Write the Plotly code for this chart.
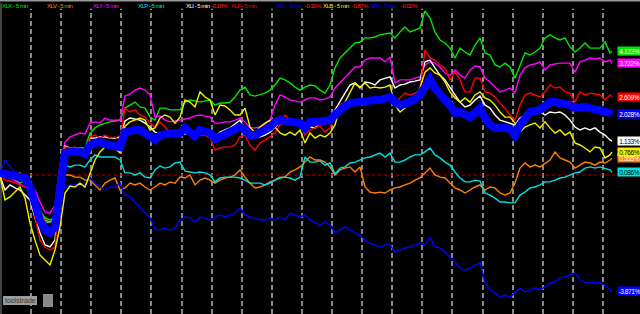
import plotly.graph_objects as go

# x positions (bar index, 5-min bars scaled)
x = list(range(0, 611, 5)) + [612]

tickers = ["XLK", "XLV", "XLY", "XLP", "XLI", "XLF", "XLU", "XLB", "SPY"]
colors = {
    "XLK": "#00e600", "XLV": "#ff8000", "XLY": "#ff00ff", "XLP": "#00e0e0",
    "XLI": "#ffffff", "XLF": "#ff0000", "XLU": "#0000ff", "XLB": "#f0f000",
    "SPY": "#0000ff",
}
end_labels = {
    "XLK": "4.123%", "XLY": "3.722%", "XLF": "2.609%", "SPY": "2.028%",
    "XLI": "1.133%", "XLB": "0.766%", "XLV": "0.555%", "XLP": "0.086%",
    "XLU": "-3.871%",
}
day_breaks = [31, 61, 91, 121, 151, 182, 212, 242, 272, 302, 332, 362, 392,
              422, 452, 483, 513, 543, 573, 603]

XLK = [0.00, -0.03, -0.07, -0.17, -0.27, -0.17, -0.60, -0.93, -1.17, -1.43,
       -1.50, -1.40, -0.33, 0.77, 0.90, 0.90, 0.90, 0.90, 1.40, 1.57,
       1.67, 1.73, 1.77, 1.80, 1.83, 2.23, 2.33, 2.43, 2.27, 2.23,
       1.93, 1.83, 2.23, 2.23, 2.17, 2.17, 2.17, 2.43, 2.50, 2.47,
       2.43, 2.47, 2.50, 2.33, 2.40, 2.40, 2.43, 2.60, 2.83, 2.93,
       2.67, 2.63, 2.67, 2.73, 2.83, 3.00, 3.23, 3.17, 3.07, 2.93,
       2.83, 2.93, 3.00, 2.97, 2.83, 2.73, 3.00, 3.57, 3.90, 4.07,
       4.23, 4.40, 4.43, 4.57, 4.57, 4.60, 4.67, 4.70, 4.73, 4.57,
       4.77, 4.93, 4.77, 4.83, 4.90, 5.47, 5.23, 4.77, 4.50, 4.40,
       4.23, 3.90, 4.23, 4.10, 4.00, 4.33, 4.57, 4.07, 4.00, 3.67,
       3.60, 3.73, 3.60, 3.23, 3.67, 4.07, 4.00, 4.10, 4.23, 4.57,
       4.67, 4.57, 4.50, 4.57, 4.27, 4.10, 4.23, 4.40, 4.23, 4.23,
       4.23, 4.43, 4.07, 4.12]

XLV = [0.07, 0.07, 0.10, 0.00, 0.07, -0.17, -0.57, -0.83, -1.23, -1.50,
       -1.57, -1.43, -0.67, 0.00, 0.00, -0.07, -0.07, -0.17, -0.17, -0.33,
       -0.50, -0.27, -0.17, -0.10, -0.50, -0.43, -0.27, -0.33, -0.27, -0.40,
       -0.50, -0.40, -0.27, -0.33, -0.23, -0.27, -0.07, -0.10, 0.00, -0.33,
       -0.17, -0.10, -0.17, -0.27, -0.17, -0.10, -0.07, 0.00, 0.17, -0.07,
       -0.27, -0.43, -0.40, -0.33, -0.23, -0.17, -0.07, -0.07, 0.10, 0.17,
       0.27, 0.43, 0.60, 0.50, 0.50, 0.43, 0.27, 0.00, 0.17, 0.23,
       0.27, 0.10, 0.27, -0.40, -0.57, -0.60, -0.57, -0.60, -0.50, -0.43,
       -0.40, -0.33, -0.27, -0.17, -0.10, 0.07, 0.23, 0.00, -0.07, -0.10,
       -0.27, -0.43, -0.50, -0.60, -0.50, -0.40, -0.33, -0.50, -0.40, -0.43,
       -0.60, -0.67, -0.60, -0.27, 0.23, 0.40, 0.27, 0.33, 0.27, 0.40,
       0.50, 0.77, 0.57, 0.50, 0.43, 0.23, 0.33, 0.43, 0.40, 0.33,
       0.43, 0.40, 0.50, 0.56]

XLY = [0.00, -0.07, -0.10, -0.20, -0.30, -0.40, -0.43, -0.50, -0.90, -1.23,
       -1.27, -1.00, 0.33, 1.10, 1.27, 1.33, 1.40, 1.37, 1.73, 1.77,
       1.73, 1.90, 1.83, 1.83, 1.83, 2.63, 2.70, 2.83, 2.90, 2.83,
       2.67, 1.93, 1.97, 1.83, 1.77, 1.80, 1.83, 1.87, 1.90, 1.97,
       2.00, 1.97, 1.93, 1.73, 1.73, 1.77, 1.77, 1.83, 1.90, 1.77,
       1.57, 1.57, 1.60, 1.70, 1.83, 2.33, 2.67, 2.60, 2.50, 2.47,
       2.43, 2.50, 2.57, 2.57, 2.50, 2.53, 2.60, 2.90, 3.07, 3.27,
       3.43, 3.60, 3.60, 3.83, 3.90, 3.90, 3.90, 3.77, 3.93, 3.07,
       3.17, 3.17, 3.17, 3.23, 3.27, 3.67, 3.77, 3.73, 3.60, 3.40,
       3.33, 3.50, 3.33, 3.23, 3.50, 3.63, 3.60, 3.23, 3.10, 2.93,
       2.77, 2.83, 2.90, 2.73, 3.33, 3.57, 3.67, 3.70, 3.77, 3.50,
       3.67, 3.70, 3.73, 3.73, 3.73, 3.43, 3.77, 3.83, 3.90, 3.87,
       3.90, 3.77, 3.83, 3.72]

XLP = [0.00, 0.03, 0.07, 0.00, -0.07, -0.17, -0.50, -1.00, -1.43, -1.57,
       -1.57, -1.43, -0.50, 0.33, 0.27, 0.33, 0.33, 0.27, 0.50, 0.67,
       0.60, 0.60, 0.60, 0.60, 0.50, 0.07, 0.07, 0.00, 0.07, -0.07,
       -0.10, 0.17, 0.30, 0.23, 0.27, 0.40, 0.43, 0.13, 0.10, 0.07,
       0.10, 0.07, 0.00, -0.23, -0.10, -0.07, -0.07, -0.07, -0.10, -0.17,
       -0.27, -0.27, -0.27, -0.33, -0.27, -0.17, -0.10, -0.07, -0.10, -0.17,
       -0.07, 0.60, 0.43, 0.43, 0.47, 0.33, 0.40, 0.03, 0.23, 0.27,
       0.40, 0.43, 0.50, 0.57, 0.60, 0.67, 0.73, 0.60, 0.73, 0.43,
       0.43, 0.50, 0.60, 0.67, 0.67, 0.77, 0.90, 0.67, 0.57, 0.43,
       0.33, 0.10, -0.10, -0.23, -0.23, -0.17, -0.20, -0.60, -0.67, -0.77,
       -0.90, -0.90, -0.93, -0.93, -0.67, -0.57, -0.43, -0.40, -0.33, -0.23,
       -0.23, -0.17, -0.10, -0.07, 0.00, 0.07, 0.10, 0.23, 0.27, 0.23,
       0.27, 0.23, 0.17, 0.09]

XLI = [-0.03, -0.50, -0.33, -0.43, -0.50, -0.67, -0.83, -1.43, -1.93, -2.33,
       -2.40, -2.17, -0.33, 0.97, 0.90, 0.83, 0.77, 0.70, 1.23, 1.23,
       1.27, 1.27, 1.23, 1.23, 1.27, 1.80, 1.90, 1.87, 1.83, 1.73,
       1.60, 1.43, 1.37, 1.33, 1.33, 1.33, 1.33, 1.37, 1.40, 1.40,
       1.40, 1.40, 1.40, 1.27, 1.43, 1.50, 1.57, 1.70, 1.83, 1.50,
       1.23, 1.27, 1.27, 1.33, 1.43, 1.60, 1.73, 1.73, 1.73, 1.77,
       1.77, 1.60, 1.60, 1.57, 1.73, 1.83, 1.93, 2.17, 2.43, 2.73,
       3.00, 3.07, 2.90, 3.10, 3.07, 3.00, 3.17, 3.23, 3.27, 2.90,
       3.00, 3.03, 3.10, 3.13, 3.17, 3.77, 3.83, 3.57, 3.33, 3.17,
       2.90, 2.67, 2.43, 2.27, 2.33, 2.50, 2.63, 2.33, 2.23, 2.00,
       1.83, 1.77, 1.73, 1.67, 1.90, 2.00, 2.00, 2.07, 2.10, 2.00,
       2.10, 2.07, 2.10, 2.00, 1.83, 1.60, 1.50, 1.57, 1.50, 1.57,
       1.43, 1.33, 1.17, 1.13]

XLF = [0.00, -0.17, -0.20, -0.27, -0.33, -0.37, -0.60, -1.40, -2.17, -2.40,
       -2.50, -2.40, -0.50, 0.93, 0.90, 0.93, 0.83, 0.77, 1.27, 1.33,
       1.23, 1.33, 1.23, 1.27, 1.17, 2.23, 2.10, 2.17, 2.00, 1.93,
       1.73, 1.60, 1.77, 1.60, 1.40, 1.37, 1.33, 1.43, 1.33, 1.40,
       1.33, 1.33, 1.23, 0.83, 0.90, 0.93, 0.93, 1.00, 1.27, 1.33,
       1.00, 0.83, 1.07, 1.17, 1.27, 1.40, 1.67, 2.00, 1.83, 1.80,
       1.73, 1.33, 1.50, 1.57, 1.63, 1.43, 1.57, 2.00, 2.33, 2.43,
       2.50, 2.33, 2.43, 2.33, 2.43, 2.47, 2.50, 2.53, 2.60, 2.40,
       2.57, 2.73, 2.67, 2.73, 2.83, 4.17, 3.90, 3.83, 3.67, 3.57,
       3.17, 3.43, 3.17, 2.77, 2.77, 3.23, 3.23, 2.77, 2.73, 2.60,
       2.40, 2.23, 2.00, 1.83, 2.33, 2.67, 2.73, 2.67, 2.60, 2.77,
       3.00, 2.90, 2.93, 2.77, 2.73, 2.43, 2.77, 2.67, 2.73, 2.70,
       2.67, 2.50, 2.67, 2.61]

XLU = [0.07, 0.50, 0.27, 0.10, -0.17, -0.27, -0.43, -1.00, -1.33, -1.67,
       -1.77, -1.50, -0.67, -0.40, -0.33, -0.33, -0.27, -0.33, -0.07, -0.27,
       -0.40, -0.50, -0.40, -0.40, -0.27, -0.67, -0.73, -0.90, -1.07, -1.23,
       -1.43, -1.80, -1.83, -1.77, -1.83, -1.77, -1.50, -1.40, -1.43, -1.57,
       -1.40, -1.43, -1.50, -1.40, -1.33, -1.40, -1.33, -1.27, -1.10, -1.33,
       -1.40, -1.43, -1.50, -1.50, -1.43, -1.50, -1.40, -1.50, -1.27, -1.33,
       -1.40, -1.33, -1.50, -1.57, -1.67, -1.57, -1.67, -1.93, -1.83, -1.73,
       -1.83, -1.93, -2.00, -2.17, -2.27, -2.33, -2.40, -2.33, -2.33, -2.57,
       -2.50, -2.43, -2.40, -2.33, -2.27, -2.33, -2.07, -2.40, -2.43, -2.57,
       -2.73, -2.90, -3.10, -3.17, -3.10, -3.00, -2.93, -3.60, -3.83, -3.93,
       -4.07, -4.00, -4.07, -3.93, -3.77, -3.90, -3.83, -3.77, -3.83, -3.73,
       -3.60, -3.57, -3.43, -3.40, -3.33, -3.27, -3.50, -3.57, -3.60, -3.57,
       -3.60, -3.67, -3.83, -3.87]

XLB = [-0.03, -0.83, -0.73, -0.57, -0.40, -0.77, -1.60, -2.17, -2.67, -2.83,
       -3.00, -2.50, -1.73, -0.60, -0.37, -0.40, -0.27, -0.40, 0.07, 0.50,
       0.77, 0.93, 0.90, 0.90, 0.73, 1.63, 1.77, 1.83, 1.90, 1.83,
       1.50, 1.57, 1.90, 2.00, 1.93, 1.73, 1.93, 2.50, 2.43, 2.27,
       2.77, 2.60, 2.50, 2.00, 2.33, 2.30, 2.17, 2.00, 2.00, 2.23,
       1.60, 1.40, 1.60, 1.73, 1.83, 1.60, 1.40, 1.33, 1.43, 1.33,
       1.50, 1.07, 1.40, 1.23, 1.33, 1.27, 1.40, 1.67, 2.23, 2.43,
       2.77, 3.07, 2.93, 3.07, 2.90, 2.93, 2.90, 2.93, 3.00, 2.33,
       2.10, 2.23, 2.40, 2.43, 2.90, 3.43, 3.57, 3.40, 3.33, 3.10,
       2.77, 2.57, 2.43, 2.57, 2.43, 2.67, 2.77, 2.57, 2.50, 2.33,
       2.10, 1.93, 1.93, 1.73, 1.43, 1.60, 1.67, 1.73, 1.57, 1.77,
       1.57, 1.40, 1.50, 1.33, 1.43, 1.07, 1.00, 0.90, 0.77, 0.93,
       0.90, 0.57, 0.67, 0.77]

SPY = [0.07, 0.03, 0.00, -0.03, -0.07, -0.10, -0.40, -1.07, -1.50, -1.83,
       -1.93, -1.73, -0.50, 0.73, 0.77, 0.77, 0.77, 0.70, 1.00, 1.07,
       1.10, 1.03, 1.00, 0.97, 0.93, 1.43, 1.50, 1.50, 1.50, 1.40,
       1.23, 1.17, 1.33, 1.37, 1.40, 1.40, 1.40, 1.57, 1.43, 1.30,
       1.50, 1.47, 1.40, 1.20, 1.27, 1.33, 1.40, 1.50, 1.60, 1.50,
       1.33, 1.33, 1.40, 1.50, 1.60, 1.77, 1.83, 1.80, 1.77, 1.73,
       1.73, 1.57, 1.77, 1.77, 1.77, 1.80, 1.83, 2.00, 2.17, 2.30,
       2.40, 2.43, 2.43, 2.47, 2.50, 2.50, 2.50, 2.53, 2.60, 2.43,
       2.33, 2.37, 2.43, 2.53, 2.67, 3.00, 3.20, 2.90, 2.67, 2.50,
       2.33, 2.07, 2.10, 2.00, 1.93, 2.07, 2.23, 1.90, 1.67, 1.57,
       1.60, 1.57, 1.53, 1.33, 1.67, 1.90, 2.10, 2.13, 2.17, 2.30,
       2.43, 2.43, 2.40, 2.37, 2.33, 2.23, 2.27, 2.27, 2.23, 2.20,
       2.17, 2.13, 2.07, 2.03]

series = {"XLK": XLK, "XLV": XLV, "XLY": XLY, "XLP": XLP, "XLI": XLI,
          "XLF": XLF, "XLU": XLU, "XLB": XLB, "SPY": SPY}
for k, v in series.items():
    assert len(v) == len(x), (k, len(v))

fig = go.Figure()
for t in tickers:
    fig.add_trace(go.Scatter(
        x=x, y=series[t], mode="lines", hoverinfo="skip", showlegend=False,
        line=dict(color=colors[t], width=8 if t == "SPY" else 1.4),
    ))

shapes = []
for b in day_breaks:
    shapes.append(dict(type="line", xref="x", yref="paper", x0=b, x1=b, y0=0, y1=0.972,
                       line=dict(color="#b4b4b4", width=1.5, dash="5px,3px"), layer="below"))
shapes.append(dict(type="line", xref="x", yref="y", x0=0, x1=617, y0=0, y1=0,
                   line=dict(color="#b00000", width=1, dash="dot"), layer="below"))
shapes.append(dict(type="line", xref="paper", yref="paper", x0=0, x1=1, y0=0.998, y1=0.998,
                   line=dict(color="#9a9a9a", width=1.5)))
shapes.append(dict(type="line", xref="x", yref="paper", x0=1, x1=1, y0=0, y1=0.99,
                   line=dict(color="#5a5a5a", width=1.5), layer="below"))
# bottom-left logo box
shapes.append(dict(type="rect", xref="x", yref="paper", x0=3, x1=37, y0=1 - 305 / 314, y1=1 - 296 / 314,
                   fillcolor="#9c9c9c", line=dict(width=0)))
shapes.append(dict(type="rect", xref="x", yref="paper", x0=43, x1=53, y0=1 - 307 / 314, y1=1 - 294 / 314,
                   fillcolor="#8a8a8a", line=dict(width=0)))

annotations = []
# top legend
legend_items = [
    ("XLK - 5 min", "XLK", 1), ("XLV - 5 min", "XLV", 46), ("XLY - 5 min", "XLY", 92),
    ("XLP - 5 min", "XLP", 137), ("XLI - 5 min", "XLI", 185), ("-0.18%", None, 210),
    ("XLF - 5 min", "XLF", 230), ("XLU - 5 min", "XLU", 275), ("-0.30%", None, 304),
    ("XLB - 5 min", "XLB", 322), ("-0.87%", None, 351), ("SPY - 5 min", "SPY", 369),
    ("-0.02%", None, 400),
]
for text, t, xp in legend_items:
    annotations.append(dict(
        x=xp, y=1 - 5.5 / 314, xref="x", yref="paper", xanchor="left", yanchor="middle",
        text="<span style='letter-spacing:-0.5px'>" + text + "</span>", showarrow=False,
        borderpad=0,
        font=dict(family="Liberation Sans, Arial", size=6,
                  color=colors[t] if t else "#ff2020"),
    ))

dark_text = {"XLI", "XLB", "XLP"}
for t in tickers:
    annotations.append(dict(
        x=617, y=series[t][-1], xref="x", yref="y", xanchor="left", yanchor="middle",
        text="<span style='letter-spacing:-0.4px'>" + end_labels[t] + "</span>",
        showarrow=False, bgcolor=colors[t], borderpad=0,
        width=23, height=8, align="center",
        font=dict(family="Liberation Sans, Arial", size=6.5,
                  color="#000000" if t in dark_text else "#ffffff"),
    ))
annotations.append(dict(
    x=20, y=1 - 300.5 / 314, xref="x", yref="paper", xanchor="center", yanchor="middle",
    text="toolstrade", showarrow=False,
    font=dict(family="Liberation Sans, Arial", size=7, color="#333333"),
))

fig.update_layout(
    width=640, height=314, margin=dict(l=0, r=0, t=0, b=0),
    paper_bgcolor="#000000", plot_bgcolor="#000000",
    xaxis=dict(range=[0, 640], visible=False, fixedrange=True),
    yaxis=dict(range=[-4.633, 5.833], visible=False, fixedrange=True),
    shapes=shapes, annotations=annotations,
)
fig.write_html("out.html", config={"displayModeBar": False})
